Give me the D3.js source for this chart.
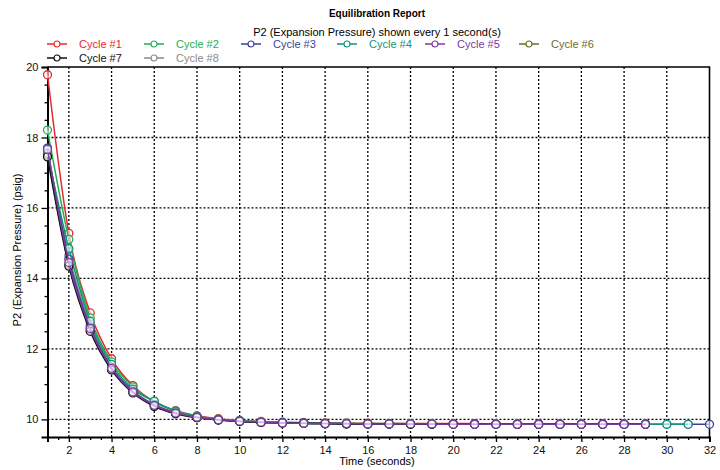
<!DOCTYPE html>
<html>
<head>
<meta charset="utf-8">
<script src="https://cdn.jsdelivr.net/npm/d3@7"></script>
<style>
	body { margin: 0; background: #fff; }
	svg { display: block; font-family: "Liberation Sans", Arial, sans-serif; }
</style>
</head>
<body>
<svg id="chart"></svg>
<script>
const width = 720;
const height = 470;

// series data (psig, one reading per second starting at t = 1)
const cycleNames = ['Cycle #1', 'Cycle #2', 'Cycle #3', 'Cycle #4', 'Cycle #5', 'Cycle #6', 'Cycle #7', 'Cycle #8'];
const cycleColors = ['#e8262e', '#22b04b', '#3b3f9c', '#13937a', '#7b3aa3', '#6b6a2c', '#111111', '#8a8a8a'];
const cycle1 = [19.78, 15.28, 13.02, 11.72, 10.96, 10.50, 10.25, 10.10, 10.02, 9.97, 9.94, 9.92, 9.91, 9.90, 9.89, 9.89, 9.88, 9.88, 9.88, 9.88, 9.88, 9.87, 9.87, 9.87, 9.87, 9.87, 9.87, 9.87, 9.87];
const cycle2 = [18.21, 15.11, 12.88, 11.63, 10.92, 10.50, 10.24, 10.09, 10.01, 9.96, 9.93, 9.91, 9.90, 9.89, 9.89, 9.88, 9.88, 9.88, 9.87, 9.87, 9.87, 9.87, 9.87, 9.87, 9.87, 9.87, 9.87, 9.87, 9.87];
const cycle3 = [17.70, 14.55, 12.62, 11.48, 10.80, 10.42, 10.19, 10.06, 9.99, 9.95, 9.92, 9.90, 9.89, 9.88, 9.88, 9.87, 9.87, 9.87, 9.87, 9.87, 9.86, 9.86, 9.86, 9.86, 9.86, 9.86, 9.86, 9.86, 9.86, 9.86, 9.86, 9.86];
const cycle4 = [17.55, 14.85, 12.78, 11.56, 10.86, 10.52, 10.22, 10.08, 10.00, 9.96, 9.93, 9.91, 9.89, 9.88, 9.88, 9.87, 9.87, 9.87, 9.87, 9.87, 9.87, 9.86, 9.86, 9.86, 9.86, 9.86, 9.86, 9.86, 9.86, 9.86, 9.86];
const cycle5 = [17.66, 14.45, 12.58, 11.45, 10.78, 10.40, 10.18, 10.06, 9.99, 9.95, 9.92, 9.90, 9.89, 9.88, 9.88, 9.87, 9.87, 9.87, 9.87, 9.86, 9.86, 9.86, 9.86, 9.86, 9.86, 9.86, 9.86, 9.86, 9.86];
const cycle6 = [17.50, 14.40, 12.55, 11.42, 10.78, 10.38, 10.17, 10.05, 9.98, 9.94, 9.92, 9.90, 9.89, 9.88, 9.87, 9.87, 9.87, 9.87, 9.86, 9.86, 9.86, 9.86, 9.86, 9.86, 9.86, 9.86, 9.86, 9.86, 9.86];
const cycle7 = [17.45, 14.35, 12.50, 11.40, 10.75, 10.37, 10.16, 10.05, 9.98, 9.94, 9.91, 9.90, 9.89, 9.88, 9.87, 9.87, 9.87, 9.86, 9.86, 9.86, 9.86, 9.86, 9.86, 9.86, 9.86, 9.86, 9.86, 9.86, 9.86];
const cycle8 = [17.60, 14.65, 12.70, 11.47, 10.80, 10.42, 10.19, 10.06, 9.99, 9.95, 9.92, 9.90, 9.89, 9.88, 9.88, 9.87, 9.87, 9.87, 9.87, 9.86, 9.86, 9.86, 9.86, 9.86, 9.86, 9.86, 9.86, 9.86, 9.86];
const cycleValues = [cycle1, cycle2, cycle3, cycle4, cycle5, cycle6, cycle7, cycle8];
// order the lines get painted in (last one ends up on top)
const drawOrder = [0, 1, 7, 5, 2, 3, 6, 4];

const xTicks = [2, 4, 6, 8, 10, 12, 14, 16, 18, 20, 22, 24, 26, 28, 30, 32];
const yTicks = [10, 12, 14, 16, 18, 20];

const margin = { top: 67, right: 10.5, bottom: 33, left: 47.5 };

const svg = d3.select('#chart')
	.attr('width', width)
	.attr('height', height);

const x = d3.scaleLinear().domain([1, 32]).range([margin.left, width - margin.right]);
const y = d3.scaleLinear().domain([9.5, 20]).range([height - margin.bottom, margin.top]);

///////// titles
svg.append('text')
	.attr('x', 377).attr('y', 17)
	.attr('text-anchor', 'middle')
	.attr('font-size', 10).attr('font-weight', 'bold')
	.text('Equilibration Report');
svg.append('text')
	.attr('x', 377).attr('y', 36)
	.attr('text-anchor', 'middle')
	.attr('font-size', 11)
	.text('P2 (Expansion Pressure) shown every 1 second(s)');

///////// legend
const legendX = [79, 176, 273, 369, 457, 551, 79, 176];
const legendY = [48, 48, 48, 48, 48, 48, 62, 62];
const legend = svg.append('g')
	.selectAll('g')
	.data(cycleNames)
	.join('g')
	.attr('transform', (d, i) => `translate(${legendX[i]},${legendY[i]})`);
legend.append('line')
	.attr('x1', -32).attr('x2', -12)
	.attr('y1', -4).attr('y2', -4)
	.attr('stroke', (d, i) => cycleColors[i])
	.attr('stroke-width', 1.5);
legend.append('circle')
	.attr('cx', -22).attr('cy', -4).attr('r', 3)
	.attr('fill', '#fff')
	.attr('stroke', (d, i) => cycleColors[i])
	.attr('stroke-width', 1.2);
legend.append('text')
	.attr('font-size', 11)
	.attr('fill', (d, i) => cycleColors[i])
	.text(d => d);

///////// grid
const grid = svg.append('g')
	.attr('stroke', '#000')
	.attr('stroke-width', 1.3)
	.attr('stroke-dasharray', '2,2');
grid.selectAll('.vgrid')
	.data(xTicks.filter(t => t < 32))
	.join('line')
	.attr('x1', d => x(d)).attr('x2', d => x(d))
	.attr('y1', y(20)).attr('y2', y(9.5));
grid.selectAll('.hgrid')
	.data(yTicks.filter(t => t < 20))
	.join('line')
	.attr('x1', x(1)).attr('x2', x(32))
	.attr('y1', d => y(d)).attr('y2', d => y(d));

///////// axes
const xAxis = svg.append('g')
	.attr('transform', `translate(0,${y(9.5)})`)
	.call(d3.axisBottom(x).tickValues(xTicks).tickSize(5).tickPadding(4).tickFormat(d3.format('d')));
svg.append('g')
	.attr('transform', `translate(0,${y(9.5)})`)
	.call(d3.axisBottom(x).tickValues(d3.range(1.5, 32, 0.5).filter(t => t % 2 !== 0)).tickSize(3).tickFormat(''))
	.call(g => g.select('.domain').remove());
const yAxis = svg.append('g')
	.attr('transform', `translate(${x(1)},0)`)
	.call(d3.axisLeft(y).tickValues(yTicks).tickSize(6).tickPadding(3).tickFormat(d3.format('d')));
svg.append('g')
	.attr('transform', `translate(${x(1)},0)`)
	.call(d3.axisLeft(y).tickValues(d3.range(10.5, 20, 0.5).filter(t => t % 2 !== 0)).tickSize(3).tickFormat(''))
	.call(g => g.select('.domain').remove());

for (let g of [xAxis, yAxis]) {
	g.selectAll('text').attr('font-size', 11).attr('fill', '#111');
	g.selectAll('line').attr('stroke', '#000');
	g.select('.domain').attr('stroke', '#000').attr('stroke-width', 2);
}
svg.selectAll('.tick line').attr('stroke', '#000').attr('stroke-width', 1.3);

// frame top and right
svg.append('path')
	.attr('d', `M${x(1)},${y(20)}H${x(32)}V${y(9.5)}`)
	.attr('fill', 'none')
	.attr('stroke', '#000')
	.attr('stroke-width', 1.6);

// axis titles
svg.append('text')
	.attr('x', 377).attr('y', 465)
	.attr('text-anchor', 'middle')
	.attr('font-size', 11)
	.text('Time (seconds)');
svg.append('text')
	.attr('transform', 'translate(21,250) rotate(-90)')
	.attr('text-anchor', 'middle')
	.attr('font-size', 11)
	.text('P2 (Expansion Pressure) (psig)');

///////// series
const line = d3.line()
	.x((d, i) => x(i + 1))
	.y(d => y(d))
	.curve(d3.curveMonotoneX);

const series = svg.append('g')
	.selectAll('g')
	.data(drawOrder)
	.join('g');
series.append('path')
	.attr('d', k => line(cycleValues[k]))
	.attr('fill', 'none')
	.attr('stroke', k => cycleColors[k])
	.attr('stroke-width', 1.5);
series.selectAll('circle')
	.data(k => cycleValues[k].map(v => ({ k, v })))
	.join('circle')
	.attr('cx', (d, i) => x(i + 1))
	.attr('cy', d => y(d.v))
	.attr('r', 4)
	.attr('fill', '#fff')
	.attr('fill-opacity', 0.6)
	.attr('stroke', d => cycleColors[d.k])
	.attr('stroke-width', 1.3);
</script>
</body>
</html>
